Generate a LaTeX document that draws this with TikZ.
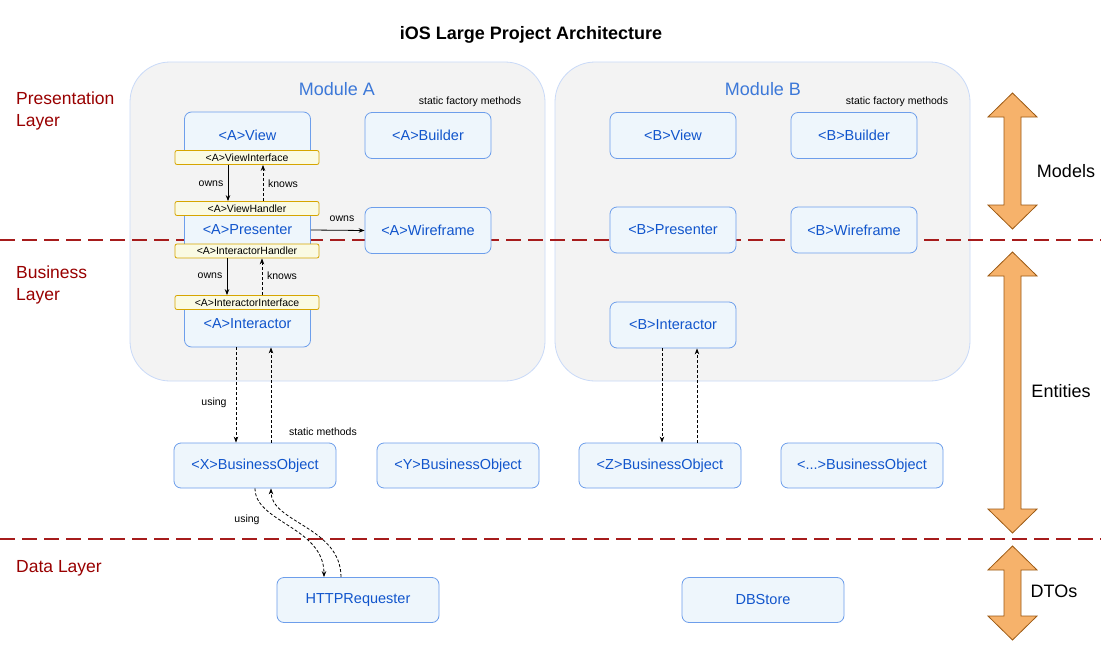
\documentclass[tikz,border=0pt]{standalone}
\usepackage{fontspec}
\setmainfont{Liberation Sans}
\usetikzlibrary{arrows.meta,calc}
\definecolor{boxline}{HTML}{6D9EEB}
\definecolor{boxfill}{HTML}{EEF6FC}
\definecolor{boxtext}{HTML}{1155CC}
\definecolor{modtext}{HTML}{3C78D8}
\definecolor{contfill}{HTML}{F3F3F3}
\definecolor{contline}{HTML}{C9DAF8}
\definecolor{barfill}{HTML}{FAFAE3}
\definecolor{barline}{HTML}{D6A500}
\definecolor{layerred}{HTML}{990000}
\definecolor{sepred}{HTML}{A61C1C}
\definecolor{orfill}{HTML}{F6B26B}
\definecolor{orline}{HTML}{9C5A14}
\newcommand\oarrow[2]{%
  \filldraw[fill=orfill,draw=orline,line width=0.8pt,line join=miter]
   (1012.5,#1) -- (1037,#1+24) -- (1021,#1+24) -- (1021,#2-24) -- (1037,#2-24)
   -- (1012.5,#2) -- (988,#2-24) -- (1004,#2-24) -- (1004,#1+24) -- (988,#1+24) -- cycle;}
\begin{document}
\begin{tikzpicture}[x=1pt,y=-1pt,
  cont/.style={draw=contline,fill=contfill,rounded corners=40pt,line width=0.8pt},
  box/.style={draw=boxline,fill=boxfill,rounded corners=7pt,line width=0.8pt,
    text=boxtext,font=\fontsize{14.5}{16}\selectfont,inner sep=0pt,
    minimum width=126pt,minimum height=46pt},
  wbox/.style={box,minimum width=162pt,minimum height=45pt},
  bar/.style={draw=barline,fill=barfill,rounded corners=2pt,line width=0.8pt,
    font=\fontsize{10.5}{12}\selectfont,inner sep=0pt,
    minimum width=144pt,minimum height=14pt},
  small/.style={font=\fontsize{10.5}{12}\selectfont,inner sep=0pt},
  modlabel/.style={text=modtext,font=\fontsize{18}{20}\selectfont,inner sep=0pt},
  layer/.style={text=layerred,font=\fontsize{17.5}{22}\selectfont,inner sep=0pt,align=left,anchor=west},
  sidelabel/.style={font=\fontsize{18}{20}\selectfont,inner sep=0pt},
  sep/.style={draw=sepred,line width=1.6pt,dash pattern=on 15pt off 7pt},
  arr/.style={line width=0.8pt,-{Stealth[length=6pt,width=4.5pt]}},
  darr/.style={arr,dash pattern=on 3pt off 2pt}
]
\useasboundingbox (0,0) rectangle (1101,653);
\fill[white] (0,0) rectangle (1101,653);

% title
\node[font=\bfseries\fontsize{18}{20}\selectfont,inner sep=0pt] (title) at (531,35) {iOS Large Project Architecture};

% containers
\draw[cont] (130,62) rectangle (545,381);
\draw[cont] (555,62) rectangle (970,381);

% separators
\draw[sep] (0,240) -- (1101,240);
\draw[sep] (0,539) -- (1101,539);

% layer labels
\node[layer] (lp) at (16,111) {Presentation\\Layer};
\node[layer] (lb) at (16,285) {Business\\Layer};
\node[layer] (ld) at (16,568) {Data Layer};

% module A
\node[modlabel] (ma) at (337,89) {Module A};
\node[small] (sfa) at (470,102) {static factory methods};
\node[box] (aview) at (247.5,135) {<A>View};
\node[box] (abuild) at (428,135.5) {<A>Builder};
\node[box] (apres) at (247.5,230) {<A>Presenter};
\node[box] (awire) at (428,230.5) {<A>Wireframe};
\node[box] (aint) at (247.5,324) {<A>Interactor};
\node[bar] (avi) at (247,157.5) {<A>ViewInterface};
\node[bar] (avh) at (247,208.5) {<A>ViewHandler};
\node[bar] (aih) at (247,251) {<A>InteractorHandler};
\node[bar] (aii) at (247,302.5) {<A>InteractorInterface};

\draw[arr] ([xshift=-19pt]avi.south) -- ([xshift=-19pt]avh.north);
\draw[darr] ([xshift=16pt]avh.north) -- ([xshift=16pt]avi.south);
\node[small] (o1) at (211,184) {owns};
\node[small] (k1) at (283,184) {knows};
\draw[arr] ([xshift=-20pt]aih.south) -- ([xshift=-20pt]aii.north);
\draw[darr] ([xshift=15pt]aii.north) -- ([xshift=15pt]aih.south);
\node[small] (o2) at (210,276) {owns};
\node[small] (k2) at (282,276) {knows};
\draw[arr] (apres.east) -- (awire.west);
\node[small] (o3) at (342,219) {owns};

% module B
\node[modlabel] (mb) at (763,89) {Module B};
\node[small] (sfb) at (897,102) {static factory methods};
\node[box] (bview) at (673,135.5) {<B>View};
\node[box] (bbuild) at (854,135.5) {<B>Builder};
\node[box] (bpres) at (673,230) {<B>Presenter};
\node[box] (bwire) at (854,230) {<B>Wireframe};
\node[box] (bint) at (673,325) {<B>Interactor};

% business objects
\node[wbox] (xbo) at (255,465.5) {<X>BusinessObject};
\node[wbox] (ybo) at (458,465.5) {<Y>BusinessObject};
\node[wbox] (zbo) at (660,465.5) {<Z>BusinessObject};
\node[wbox] (dbo) at (862,465.5) {<...>BusinessObject};
\node[wbox] (http) at (358,600) {HTTPRequester};
\node[wbox] (db) at (763,600) {DBStore};

% A interactor <-> X
\coordinate (c1) at ([xshift=-11.5pt]aint.south);
\coordinate (c2) at ([xshift=23.5pt]aint.south);
\draw[darr] (c1) -- (c1 |- xbo.north);
\draw[darr] (c2 |- xbo.north) -- (c2);
\node[small] (u1) at (214,403) {using};
\node[small] (sm) at (323,432) {static methods};

% B interactor <-> Z
\coordinate (c3) at ([xshift=-11pt]bint.south);
\coordinate (c4) at ([xshift=24pt]bint.south);
\draw[darr] (c3) -- (c3 |- zbo.north);
\draw[darr] (c4 |- zbo.north) -- (c4);

% X <-> HTTP
\draw[darr] (xbo.south) .. controls ([yshift=-34pt]xbo.south) and ([xshift=-34pt,yshift=50pt]http.north) .. ([xshift=-34pt]http.north);
\draw[darr] ([xshift=-17pt]http.north) .. controls ([xshift=-17pt,yshift=50pt]http.north) and ([xshift=16pt,yshift=-34pt]xbo.south) .. ([xshift=16pt]xbo.south);
\node[small] (u2) at (247,520) {using};

% orange arrows
\oarrow{93}{229}
\oarrow{252}{533}
\oarrow{546}{640}
\node[sidelabel] (models) at (1066,171) {Models};
\node[sidelabel] (entities) at (1061,391) {Entities};
\node[sidelabel] (dtos) at (1054,591) {DTOs};
\end{tikzpicture}
\end{document}
